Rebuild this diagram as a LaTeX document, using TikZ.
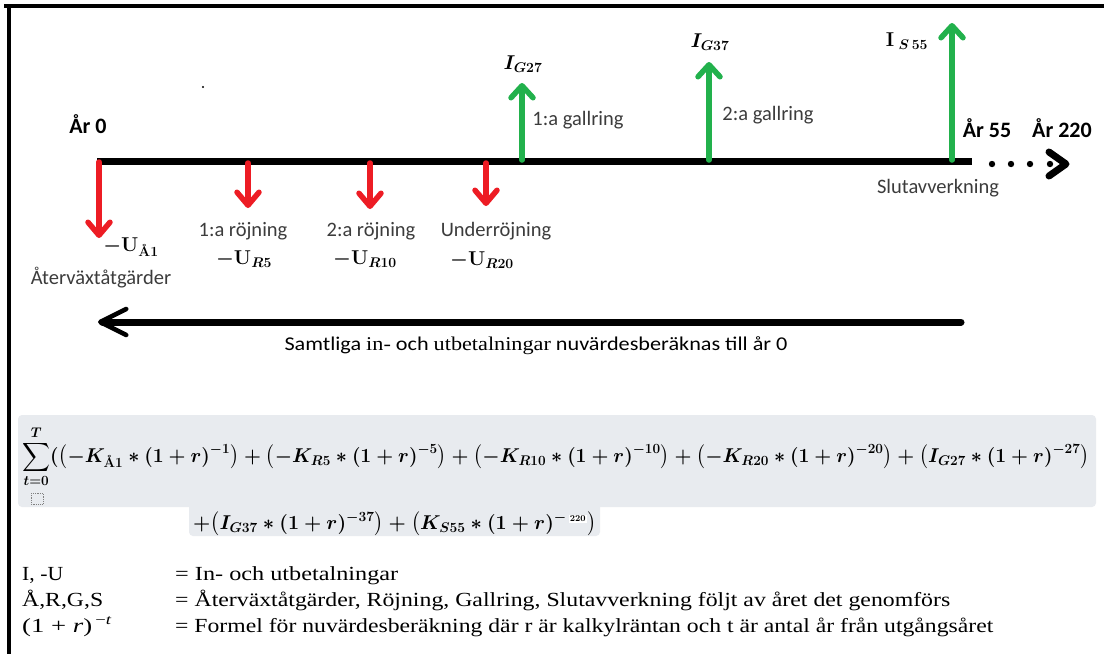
\RequirePackage{fix-cm}
\documentclass[tikz,border=0pt]{standalone}
\usepackage{amsmath,amssymb,bm}
\usepackage{graphicx}
\usepackage{fontspec}
\newfontfamily\calib{Carlito}
\newfontfamily\tnr{Liberation Serif}
\usetikzlibrary{arrows.meta}
\newcommand{\fitw}[2]{\resizebox{#1}{\height}{#2}}
\definecolor{pred}{RGB}{237,28,36}
\definecolor{pgreen}{RGB}{34,177,76}
\definecolor{fbg}{RGB}{232,235,239}
\definecolor{lbl}{RGB}{60,60,60}
\tikzset{
  downarr/.style={pred, line width=5.5pt, line cap=round,
    -{Straight Barb[length=13pt,width=22pt,line width=5.5pt,round]}},
  uparr/.style={pgreen, line width=5.5pt, line cap=round,
    -{Straight Barb[length=12pt,width=22pt,line width=5.5pt,round]}},
  lab/.style={text=lbl, font=\calib\fontsize{20.5}{24}\selectfont, inner sep=0pt},
  yr/.style={text=black, font=\calib\bfseries\fontsize{22}{26}\selectfont, inner sep=0pt},
  mlab/.style={text=black, font=\fontsize{20}{24}\selectfont\boldmath, inner sep=0pt},
  leg/.style={text=black, font=\tnr\fontsize{20}{24}\selectfont, inner sep=0pt, anchor=base west},
  frm/.style={text=black, font=\fontsize{20}{24}\selectfont\boldmath, inner sep=0pt, anchor=base west},
}
\begin{document}
\begin{tikzpicture}[x=1pt,y=-1pt]
\useasboundingbox (0,0) rectangle (1104,654);
\fill[white] (0,0) rectangle (1104,654);
% frame
\draw[line width=4pt] (4,6) -- (1104,6);
\draw[line width=4pt] (9,4) -- (9,654);
% timeline
\coordinate (tl0) at (97,161);
\coordinate (tl1) at (972,161);
\draw[line width=7pt] (tl0) -- (tl1);
% dots and chevron
\foreach \dx in {992,1011,1030,1050} \fill (\dx,164) circle (3.2pt);
\draw[line width=7pt, line cap=round, line join=round] (1049,152) -- (1066,164) -- (1049,176);
% red arrows
\coordinate (d0) at (99,162);  \coordinate (d0e) at (99,238);
\coordinate (d1) at (248,163); \coordinate (d1e) at (248,208);
\coordinate (d2) at (370,163); \coordinate (d2e) at (370,209);
\coordinate (d3) at (486,163); \coordinate (d3e) at (486,206);
\draw[downarr] (d0) -- (d0e);
\draw[downarr] (d1) -- (d1e);
\draw[downarr] (d2) -- (d2e);
\draw[downarr] (d3) -- (d3e);
% green arrows
\coordinate (u1) at (522,160); \coordinate (u1e) at (522,83);
\coordinate (u2) at (709,160); \coordinate (u2e) at (709,62);
\coordinate (u3) at (952,160); \coordinate (u3e) at (952,23);
\draw[uparr] (u1) -- (u1e);
\draw[uparr] (u2) -- (u2e);
\draw[uparr] (u3) -- (u3e);
% stray dot
\fill (203,87) circle (1.2pt);
% year labels
\node[yr] (y0) at (88,124) {År 0};
\node[yr] (y55) at (987,128) {År 55};
\node[yr] (y220) at (1062,128) {År 220};
% text labels
\node[lab] (lA) at (101,278) {Återväxtåtgärder};
\node[lab] (lR1) at (243,231) {1:a röjning};
\node[lab] (lR2) at (371,231) {2:a röjning};
\node[lab] (lR3) at (496,231) {Underröjning};
\node[lab] (lG1) at (578,120) {1:a gallring};
\node[lab] (lG2) at (768,115) {2:a gallring};
\node[lab] (lS) at (938,188) {Slutavverkning};
% math labels
\node[mlab] (mA) at (131,247) {$-\mathbf{U}_{\textbf{Å1}}$};
\node[mlab] (mR5) at (244,259) {$-\mathbf{U}_{R5}$};
\node[mlab] (mR10) at (365,259) {$-\mathbf{U}_{R10}$};
\node[mlab] (mR20) at (482,260) {$-\mathbf{U}_{R20}$};
\node[mlab] (mG27) at (523,64) {$I_{G27}$};
\node[mlab] (mG37) at (710,42) {$I_{G37}$};
\node[mlab] (mS55) at (907,41) {$\mathbf{I}_{\;S\,\mathbf{55}}$};
% long arrow
\coordinate (la1) at (961,322);
\coordinate (la0) at (98,322);
\draw[line width=7pt, line cap=round, -{Straight Barb[length=26pt,width=26pt,line width=4.5pt,round]}] (la1) -- (la0);
\node[text=black, font=\calib\fontsize{19.5}{23}\selectfont, inner sep=0pt, anchor=base] (sam) at (536,350) {\fitw{503pt}{Samtliga {\tnr in-} och {\tnr utbetalningar} nuvärdesberäknas till år 0}};
% formula background
\fill[fbg, rounded corners=4pt] (18,415) rectangle (1096,507);
\fill[fbg, rounded corners=4pt] (189,498) rectangle (600,536);
\node[frm] (f1) at (22,462) {\fitw{1067pt}{$\displaystyle\sum_{t=0}^{T}(\bigl(-K_{\textbf{Å1}}\ast(1+r)^{-1}\bigr)+\bigl(-K_{R5}\ast(1+r)^{-5}\bigr)+\bigl(-K_{R10}\ast(1+r)^{-10}\bigr)+\bigl(-K_{R20}\ast(1+r)^{-20}\bigr)+\bigl(I_{G27}\ast(1+r)^{-27}\bigr)$}};
\draw[densely dotted, gray, line width=0.8pt] (31,493) rectangle (43,504);
\node[frm] (f2) at (193,529) {\fitw{403pt}{$+\bigl(I_{G37}\ast(1+r)^{-37}\bigr)+\bigl(K_{S55}\ast(1+r)^{-\,\text{\setlength{\fboxsep}{1pt}\colorbox{white}{\fontsize{9}{10}\selectfont\bfseries 220}}}\bigr)$}};
% legend
\node[leg] (k1) at (22,580) {\fitw{41pt}{I, -U}};
\node[leg] (v1) at (175,580) {\fitw{223pt}{= In- och utbetalningar}};
\node[leg] (k2) at (22,606) {\fitw{81pt}{Å,R,G,S}};
\node[leg] (v2) at (175,606) {\fitw{775pt}{= Återväxtåtgärder, Röjning, Gallring, Slutavverkning följt av året det genomförs}};
\node[leg] (k3) at (22,632) {\fitw{90pt}{(1 + \textit{r})\textsuperscript{\,−\textit{t}}}};
\node[leg] (v3) at (175,632) {\fitw{818pt}{= Formel för nuvärdesberäkning där r är kalkylräntan och t är antal år från utgångsåret}};
\end{tikzpicture}
\end{document}
